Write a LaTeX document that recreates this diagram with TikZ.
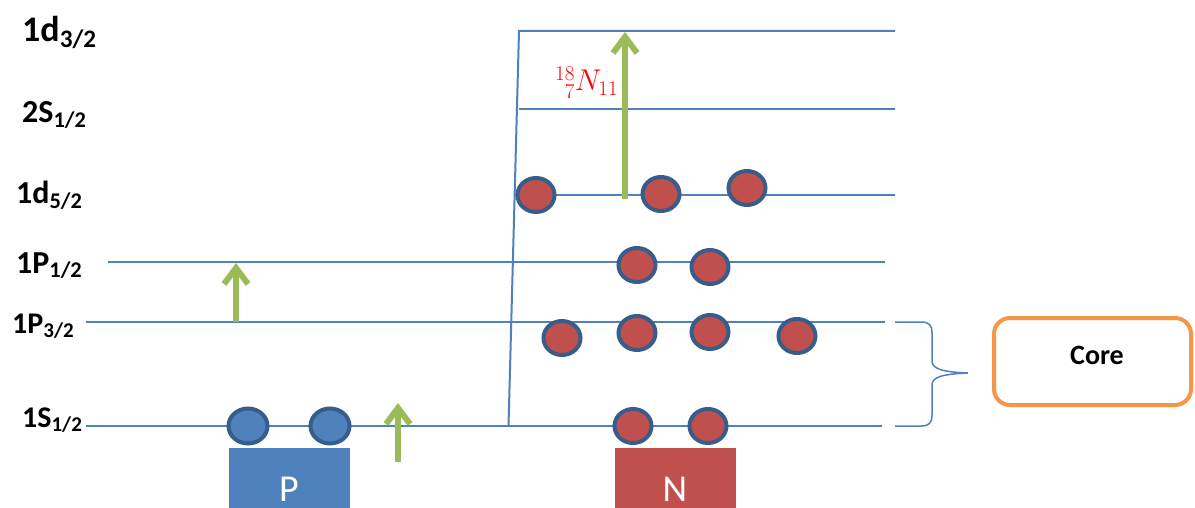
\RequirePackage{fix-cm}
\documentclass[tikz,border=0pt]{standalone}
\usepackage{fontspec}
\setmainfont{Carlito}
\usetikzlibrary{shapes.geometric,arrows.meta}
\definecolor{lvl}{HTML}{4F81BD}
\definecolor{nred}{HTML}{C0504D}
\definecolor{rim}{HTML}{385D8A}
\definecolor{grn}{HTML}{9BBB59}
\definecolor{org}{HTML}{F79646}
\begin{document}
\begin{tikzpicture}[x=1pt,y=-1pt,
  level/.style={draw=lvl, line width=2pt},
  neut/.style={ellipse, draw=rim, fill=nred, line width=4pt, minimum width=37pt, minimum height=34pt, inner sep=0pt},
  prot/.style={neut, fill=lvl, minimum width=39pt, minimum height=35pt},
  garrow/.style={draw=grn, line width=6pt, -{Straight Barb[length=16pt,width=24pt]}},
  lab/.style={anchor=base west, font=\fontsize{32}{38}\selectfont\bfseries, inner sep=0pt},
  boxn/.style={rectangle, minimum width=121pt, minimum height=60pt, inner sep=0pt},
  boxt/.style={inner sep=0pt, text=white, font=\fontsize{38}{44}\selectfont}
]
\clip (0,0) rectangle (1195,508);
\fill[white] (0,0) rectangle (1195,508);

% level coordinates
\coordinate (sA) at (86,426);  \coordinate (sB) at (882,426);
\coordinate (vB) at (508.5,426); \coordinate (vT) at (519,31);
\coordinate (p3A) at (86,322); \coordinate (p3B) at (885,322);
\coordinate (p1A) at (108,262); \coordinate (p1B) at (885,262);
\coordinate (d5A) at (514,195); \coordinate (d5B) at (895,195);
\coordinate (s2A) at (519,109); \coordinate (s2B) at (895,109);
\coordinate (d3B) at (895,31);

\draw[level] (sA) -- (sB);
\draw[level] (p3A) -- (p3B);
\draw[level] (p1A) -- (p1B);
\draw[level] (d5A) -- (d5B);
\draw[level] (s2A) -- (s2B);
\draw[level] (vB) -- (vT) -- (d3B);

% labels
\node[lab, font=\fontsize{36}{42}\selectfont\bfseries] (l1) at (22,42) {1d\textsubscript{3/2}};
\node[lab] (l2) at (22,123) {2S\textsubscript{1/2}};
\node[lab] (l3) at (16,204) {1d\textsubscript{5/2}};
\node[lab] (l4) at (16,273) {1P\textsubscript{1/2}};
\node[lab, font=\fontsize{30}{36}\selectfont\bfseries] (l5) at (12,333) {1P\textsubscript{3/2}};
\node[lab, font=\fontsize{30}{36}\selectfont\bfseries] (l6) at (22,427) {1S\textsubscript{1/2}};

% boxes
\node[boxn, fill=lvl] (pbox) at (289,478) {};
\node[boxn, fill=nred] (nbox) at (675,478) {};
\node[boxt] (ptext) at (289,489) {P};
\node[boxt] (ntext) at (675,489) {N};

% protons
\node[prot] (p1) at (248,426) {};
\node[prot] (p2) at (330,426) {};

% neutrons
\node[neut] (n1) at (633,426) {};
\node[neut] (n2) at (708,426) {};
\node[neut] (n3) at (562,338) {};
\node[neut] (n4) at (637,333) {};
\node[neut] (n5) at (710,332) {};
\node[neut] (n6) at (797,336) {};
\node[neut] (n7) at (637,265) {};
\node[neut] (n8) at (710,267) {};
\node[neut] (n9) at (536,195) {};
\node[neut] (n10) at (661,194) {};
\node[neut] (n11) at (747,188) {};

% green arrows
\coordinate (a1s) at (236,322); \coordinate (a1e) at (236,263);
\coordinate (a2s) at (398,462); \coordinate (a2e) at (398,403);
\coordinate (a3s) at (625,199); \coordinate (a3e) at (625,32);
\draw[garrow] (a1s) -- (a1e);
\draw[garrow] (a2s) -- (a2e);
\draw[garrow] (a3s) -- (a3e);

% nucleus label
\node[anchor=base west, inner sep=0pt, text=red, font=\fontsize{30}{36}\selectfont] (nuc) at (555,91) {${}^{18}_{\phantom{1}7}N_{11}$};

% brace
\draw[draw=lvl, line width=1.5pt] (895,322) -- (921,322) .. controls (929,322) and (932,325) .. (932,333) -- (932,361)
  .. controls (932,368) and (940,372) .. (968,373)
  .. controls (940,374) and (932,378) .. (932,385) -- (932,415)
  .. controls (932,423) and (929,426) .. (921,426) -- (895,426);

% core box
\node[draw=org, line width=4pt, rounded corners=16pt, minimum width=197pt, minimum height=87pt, inner sep=0pt] (core) at (1092.5,361.5) {};
\node[font=\fontsize{28}{32}\selectfont\bfseries, inner sep=0pt] (coretext) at (1097,355) {Core};
\end{tikzpicture}
\end{document}
